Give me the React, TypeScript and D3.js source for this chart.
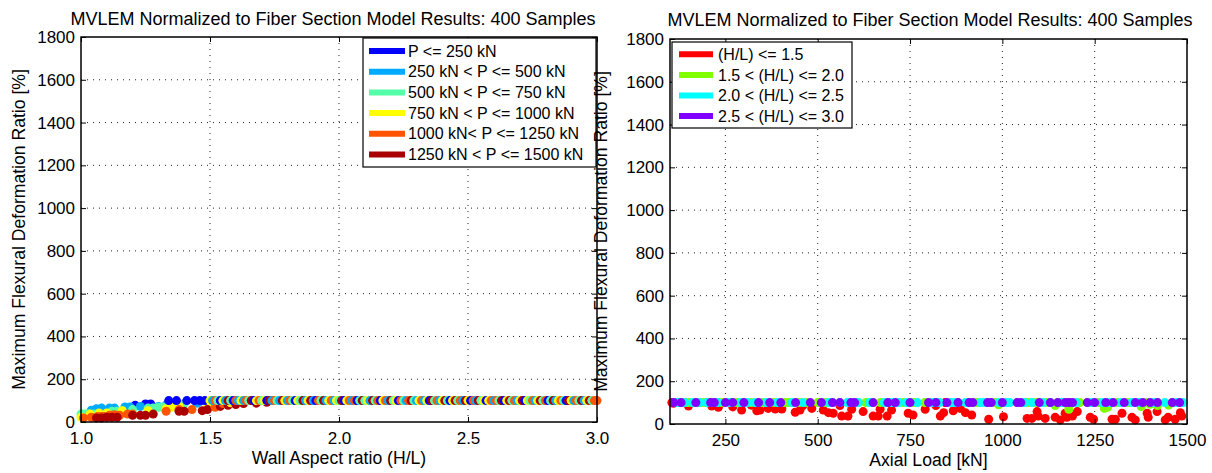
import React, { useEffect, useRef } from 'react';
import * as d3 from 'd3';

const titleText = 'MVLEM Normalized to Fiber Section Model Results: 400 Samples';
const yLabelText = 'Maximum Flexural Deformation Ratio [%]';

// samples below the plateau: [H/L, P (kN), ratio (%)]
const lowSamples: [number, number, number][] = [
  [1.46, 109, 97], [1.27, 150, 84], [1.25, 213, 84], [1.21, 231, 78],
  [1.04, 439, 55], [1.06, 335, 62], [1.08, 294, 65], [1.11, 344, 65],
  [1.13, 452, 65], [1.17, 385, 70], [1.19, 403, 70], [1.23, 366, 73],
  [1.30, 484, 73], [1.33, 270, 80], [1.36, 460, 86], [1.45, 320, 88],
  [1.00, 565, 37], [1.01, 582, 37], [1.02, 650, 37], [1.03, 664, 37],
  [1.05, 688, 37], [1.12, 542, 50], [1.14, 745, 50], [1.16, 529, 53],
  [1.20, 623, 58], [1.26, 515, 65], [1.28, 700, 65], [1.30, 592, 69],
  [1.32, 669, 69], [1.40, 560, 86],
  [1.00, 963, 22], [1.035, 832, 37], [1.07, 917, 42], [1.10, 758, 42],
  [1.16, 841, 53], [1.26, 900, 53], [1.33, 867, 62], [1.35, 791, 69],
  [1.38, 886, 73], [1.49, 820, 86],
  [1.01, 1157, 19], [1.04, 1247, 22], [1.065, 1067, 26], [1.08, 1080, 26],
  [1.09, 1116, 26], [1.11, 1143, 31], [1.12, 1175, 31], [1.13, 1003, 34],
  [1.15, 1238, 31], [1.18, 1097, 37], [1.20, 1190, 37], [1.33, 1170, 50],
  [1.38, 1094, 58], [1.43, 1203, 58],
  [1.06, 1360, 19], [1.08, 1441, 19], [1.10, 1297, 22], [1.12, 1306, 22],
  [1.14, 1468, 22], [1.20, 1351, 31], [1.23, 1395, 31], [1.25, 1449, 31],
  [1.28, 1486, 37], [1.38, 1324, 50], [1.40, 1392, 50], [1.47, 1482, 53],
  [1.49, 1419, 58],
  [1.52, 1180, 69], [1.54, 1276, 73], [1.55, 1143, 86], [1.57, 1285, 78],
  [1.58, 990, 90], [1.60, 1376, 82], [1.63, 1420, 86], [1.68, 1450, 88],
  [1.72, 1400, 92],
];

// samples sitting on the plateau: [H/L, P (kN)]
const plateauRatio = 100;
const plateauSamples: [number, number][] = [
  [1.34, 120], [1.37, 180], [1.41, 105], [1.44, 140], [1.46, 200], [1.48, 230],
  [1.50, 845], [1.51, 320], [1.52, 1120], [1.53, 560], [1.54, 210], [1.55, 980],
  [1.56, 410], [1.57, 1390], [1.58, 690], [1.59, 150], [1.60, 1230], [1.61, 470],
  [1.62, 880], [1.63, 300], [1.64, 1040], [1.65, 610], [1.66, 1460], [1.67, 240],
  [1.68, 760], [1.69, 1180], [1.70, 520], [1.71, 930], [1.72, 130], [1.73, 1310],
  [1.74, 380], [1.75, 1070], [1.76, 650], [1.77, 270], [1.78, 1420], [1.79, 820],
  [1.80, 450], [1.81, 1150], [1.82, 590], [1.83, 190], [1.84, 1000], [1.85, 730],
  [1.86, 1340], [1.87, 350], [1.88, 910], [1.89, 1260], [1.90, 500], [1.91, 170],
  [1.92, 1090], [1.93, 670], [1.94, 1480], [1.95, 420], [1.96, 790], [1.97, 1210],
  [1.98, 280], [1.99, 960],
  [2.00, 630], [2.01, 1370], [2.02, 230], [2.03, 860], [2.04, 1130], [2.05, 390],
  [2.06, 1010], [2.07, 140], [2.08, 720], [2.09, 1290], [2.10, 540], [2.11, 950],
  [2.12, 310], [2.13, 1440], [2.14, 680], [2.15, 1060], [2.16, 200], [2.17, 830],
  [2.18, 1200], [2.19, 460], [2.20, 1350], [2.21, 580], [2.22, 900], [2.23, 120],
  [2.24, 1160], [2.25, 740], [2.26, 330], [2.27, 1020], [2.28, 1470], [2.29, 610],
  [2.30, 260], [2.31, 870], [2.32, 1240], [2.33, 430], [2.34, 990], [2.35, 180],
  [2.36, 1320], [2.37, 700], [2.38, 1110], [2.39, 360], [2.40, 810], [2.41, 1410],
  [2.42, 530], [2.43, 160], [2.44, 940], [2.45, 1270], [2.46, 640], [2.47, 1080],
  [2.48, 290], [2.49, 1490],
  [2.50, 770], [2.51, 220], [2.52, 1150], [2.53, 480], [2.54, 1380], [2.55, 600],
  [2.56, 970], [2.57, 110], [2.58, 850], [2.59, 1230], [2.60, 340], [2.61, 1050],
  [2.62, 710], [2.63, 1460], [2.64, 250], [2.65, 920], [2.66, 1300], [2.67, 560],
  [2.68, 1170], [2.69, 400], [2.70, 800], [2.71, 1420], [2.72, 170], [2.73, 1000],
  [2.74, 650], [2.75, 1250], [2.76, 300], [2.77, 880], [2.78, 1360], [2.79, 510],
  [2.80, 1100], [2.81, 210], [2.82, 750], [2.83, 1480], [2.84, 440], [2.85, 960],
  [2.86, 1190], [2.87, 590], [2.88, 130], [2.89, 1330], [2.90, 820], [2.91, 370],
  [2.92, 1040], [2.93, 690], [2.94, 1400], [2.95, 270], [2.96, 910], [2.97, 1280],
  [2.98, 540], [2.99, 1130], [3.00, 1180],
];

const loadBreaks = [250, 500, 750, 1000, 1250, 1500];
const loadLabels = [
  'P <= 250 kN',
  '250 kN < P <= 500 kN',
  '500 kN < P <= 750 kN',
  '750 kN < P <= 1000 kN',
  '1000 kN< P <= 1250 kN',
  '1250 kN < P <= 1500 kN',
];
const loadColors = ['#0000ff', '#00aaff', '#55ffaa', '#ffff00', '#ff5500', '#aa0000'];

const aspectBreaks = [1.5, 2.0, 2.5, 3.0];
const aspectLabels = ['(H/L) <= 1.5', '1.5 < (H/L) <= 2.0', '2.0 < (H/L) <= 2.5', '2.5 < (H/L) <= 3.0'];
const aspectColors = ['#ff0000', '#80ff00', '#00ffff', '#8000ff'];

const aspectTicks = [1.0, 1.5, 2.0, 2.5, 3.0];
const loadTicks = [250, 500, 750, 1000, 1250, 1500];
const ratioTicks = [0, 200, 400, 600, 800, 1000, 1200, 1400, 1600, 1800];

const FONT = '"Liberation Sans", Arial, Helvetica, sans-serif';

const samples = lowSamples
  .map(([hl, p, r]) => ({ hl, p, r }))
  .concat(plateauSamples.map(([hl, p]) => ({ hl, p, r: plateauRatio })));

const groupOf = (breaks: number[], v: number) => Math.min(d3.bisectLeft(breaks, v - 1e-9), breaks.length - 1);

const drawPanel = (svg: any, cfg: any) => {
  const { left, right, top, bottom } = cfg.box;
  const x = d3.scaleLinear().domain(cfg.xDomain).range([left, right]);
  const y = d3.scaleLinear().domain([0, 1800]).range([bottom, top]);
  const g = svg.append('g');

  // dotted grid
  g.append('g')
    .selectAll('line')
    .data(cfg.xTicks.filter((t: number) => x(t) > left + 1 && x(t) < right - 1))
    .join('line')
    .attr('x1', (d: number) => x(d))
    .attr('x2', (d: number) => x(d))
    .attr('y1', top)
    .attr('y2', bottom)
    .attr('stroke', '#222')
    .attr('stroke-dasharray', '1,5');
  g.append('g')
    .selectAll('line')
    .data(ratioTicks.filter(t => y(t) > top + 1 && y(t) < bottom - 1))
    .join('line')
    .attr('x1', left)
    .attr('x2', right)
    .attr('y1', (d: number) => y(d))
    .attr('y2', (d: number) => y(d))
    .attr('stroke', '#222')
    .attr('stroke-dasharray', '1,5');

  // samples
  g.append('g')
    .selectAll('circle')
    .data(samples)
    .join('circle')
    .attr('cx', (d: any) => x(cfg.xValue(d)))
    .attr('cy', (d: any) => y(d.r))
    .attr('r', 4.5)
    .attr('fill', (d: any) => cfg.colorOf(d));

  // axes, ticks pointing inward on all four sides
  const styleAxis = (a: any) => {
    a.select('.domain').remove();
    a.attr('font-size', 17).attr('font-family', FONT);
    a.selectAll('text').attr('fill', '#000');
    a.selectAll('line').attr('stroke', '#000');
  };
  g.append('g')
    .attr('transform', `translate(0,${bottom})`)
    .call(d3.axisBottom(x).tickValues(cfg.xTicks).tickSize(-5).tickPadding(10).tickFormat(cfg.xFormat))
    .call(styleAxis);
  g.append('g')
    .attr('transform', `translate(0,${top})`)
    .call(d3.axisTop(x).tickValues(cfg.xTicks).tickSize(-5).tickFormat(() => ''))
    .call(styleAxis);
  g.append('g')
    .attr('transform', `translate(${left},0)`)
    .call(d3.axisLeft(y).tickValues(ratioTicks).tickSize(-5).tickPadding(6).tickFormat(d3.format('d')))
    .call(styleAxis);
  g.append('g')
    .attr('transform', `translate(${right},0)`)
    .call(d3.axisRight(y).tickValues(ratioTicks).tickSize(-5).tickFormat(() => ''))
    .call(styleAxis);

  g.append('rect')
    .attr('x', left)
    .attr('y', top)
    .attr('width', right - left)
    .attr('height', bottom - top)
    .attr('fill', 'none')
    .attr('stroke', '#000')
    .attr('stroke-width', 1.5);

  // legend
  const lg = cfg.legend;
  const leg = g.append('g').attr('transform', `translate(${lg.x},${lg.y})`);
  leg.append('rect')
    .attr('width', lg.w)
    .attr('height', lg.h)
    .attr('fill', '#fff')
    .attr('stroke', '#000')
    .attr('stroke-width', 1.2);
  const rows = leg.selectAll('g.row')
    .data(lg.labels)
    .join('g')
    .attr('class', 'row')
    .attr('transform', (d: string, i: number) => `translate(0,${lg.first + i * lg.step})`);
  rows.append('line')
    .attr('x1', lg.lineX0)
    .attr('x2', lg.lineX1)
    .attr('stroke', (d: string, i: number) => lg.colors[i])
    .attr('stroke-width', 6);
  rows.append('text')
    .attr('x', lg.textX)
    .attr('dy', '0.35em')
    .attr('font-size', 16)
    .attr('font-family', FONT)
    .text((d: string) => d);

  // title and labels
  const cx = (left + right) / 2;
  g.append('text')
    .attr('x', cfg.titleX)
    .attr('y', cfg.titleY)
    .attr('text-anchor', 'middle')
    .attr('font-size', 18)
    .attr('font-family', FONT)
    .text(titleText);
  g.append('text')
    .attr('x', cx)
    .attr('y', bottom + 42)
    .attr('text-anchor', 'middle')
    .attr('font-size', 17.6)
    .attr('font-family', FONT)
    .text(cfg.xLabel);
  g.append('text')
    .attr('transform', `translate(${cfg.yLabelX},${(top + bottom) / 2}) rotate(-90)`)
    .attr('text-anchor', 'middle')
    .attr('font-size', 17.6)
    .attr('font-family', FONT)
    .text(yLabelText);
};

export default function App() {
  const ref = useRef<SVGSVGElement>(null);

  useEffect(() => {
    const svg = d3.select(ref.current);
    svg.selectAll('*').remove();

    drawPanel(svg, {
      box: { left: 81, right: 597, top: 37, bottom: 422 },
      xDomain: [1.0, 3.0],
      xTicks: aspectTicks,
      xFormat: d3.format('.1f'),
      xLabel: 'Wall Aspect ratio (H/L)',
      xValue: (d: any) => d.hl,
      colorOf: (d: any) => loadColors[groupOf(loadBreaks, d.p)],
      titleX: 333,
      titleY: 25,
      yLabelX: 25,
      legend: {
        x: 363, y: 38, w: 233, h: 129,
        first: 13, step: 20.7,
        lineX0: 6, lineX1: 42, textX: 45,
        labels: loadLabels, colors: loadColors,
      },
    });

    drawPanel(svg, {
      box: { left: 670, right: 1187, top: 39, bottom: 424 },
      xDomain: [100, 1500],
      xTicks: loadTicks,
      xFormat: d3.format('d'),
      xLabel: 'Axial Load [kN]',
      xValue: (d: any) => d.p,
      colorOf: (d: any) => aspectColors[groupOf(aspectBreaks, d.hl)],
      titleX: 930,
      titleY: 26,
      yLabelX: 607,
      legend: {
        x: 672, y: 42, w: 180, h: 86,
        first: 12.3, step: 20.6,
        lineX0: 7, lineX1: 41, textX: 46,
        labels: aspectLabels, colors: aspectColors,
      },
    });
  }, []);

  return (
    <svg
      ref={ref}
      width={1212}
      height={473}
      style={{ position: 'absolute', left: 0, top: 0, background: '#fff', display: 'block' }}
    />
  );
}
